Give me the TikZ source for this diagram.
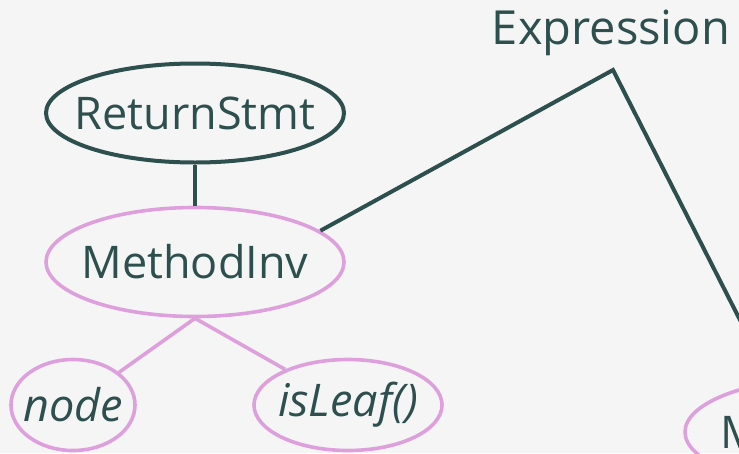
\documentclass[tikz,border=0pt]{standalone}
\usepackage{fontspec}
\setmainfont{Open Sans}
\usetikzlibrary{shapes.geometric}
\definecolor{ink}{HTML}{2D4F4E}
\definecolor{plum}{HTML}{DDA0DD}
\definecolor{paper}{HTML}{F5F5F5}
% text set in a zero-width box, so the oval size comes only from minimum width/height
\newcommand{\ovaltext}[1]{\makebox[0pt]{#1}}
\tikzset{
  label text/.style={text=ink, font=\fontsize{45}{50}\selectfont},
  darkoval/.style={ellipse, draw=ink, line width=4pt, inner sep=0pt, label text},
  pinkoval/.style={ellipse, draw=plum, line width=3.6pt, inner sep=0pt, label text},
  darkedge/.style={draw=ink, line width=4pt},
  pinkedge/.style={draw=plum, line width=3.6pt},
}
\begin{document}
\begin{tikzpicture}[x=1pt, y=-1pt]
  \useasboundingbox (0,0) rectangle (739,453);
  \fill[paper] (0,0) rectangle (739,453);
  \clip (0,0) rectangle (739,453);

  % tree nodes
  \node[darkoval, minimum width=298pt, minimum height=99pt] (rs) at (195,113) {\ovaltext{ReturnStmt}};
  \node[pinkoval, minimum width=298pt, minimum height=109pt] (mi) at (195,262) {\ovaltext{MethodInv}};
  \node[pinkoval, minimum width=124pt, minimum height=91pt] (nd) at (73,405) {\ovaltext{\itshape node}};
  \node[pinkoval, minimum width=188pt, minimum height=91pt] (il) at (348,405) {\ovaltext{\itshape isLeaf()}};
  \node[pinkoval, minimum width=298pt, minimum height=109pt] (mi2) at (834,432) {\ovaltext{MethodInv}};

  % parent label and its branch point
  \node[label text, font=\fontsize{47}{52}\selectfont, inner sep=0pt] (expr) at (611,33) {Expression};
  \coordinate (apex) at (613,70);
  \coordinate (rightend) at (771,381);

  % connectors
  \draw[darkedge] (rs) -- (mi);
  \draw[darkedge, line join=miter] (mi.14) -- (apex) -- (rightend);
  \draw[pinkedge] (mi.south) -- (nd);
  \draw[pinkedge] (mi.south) -- (il);
\end{tikzpicture}
\end{document}
